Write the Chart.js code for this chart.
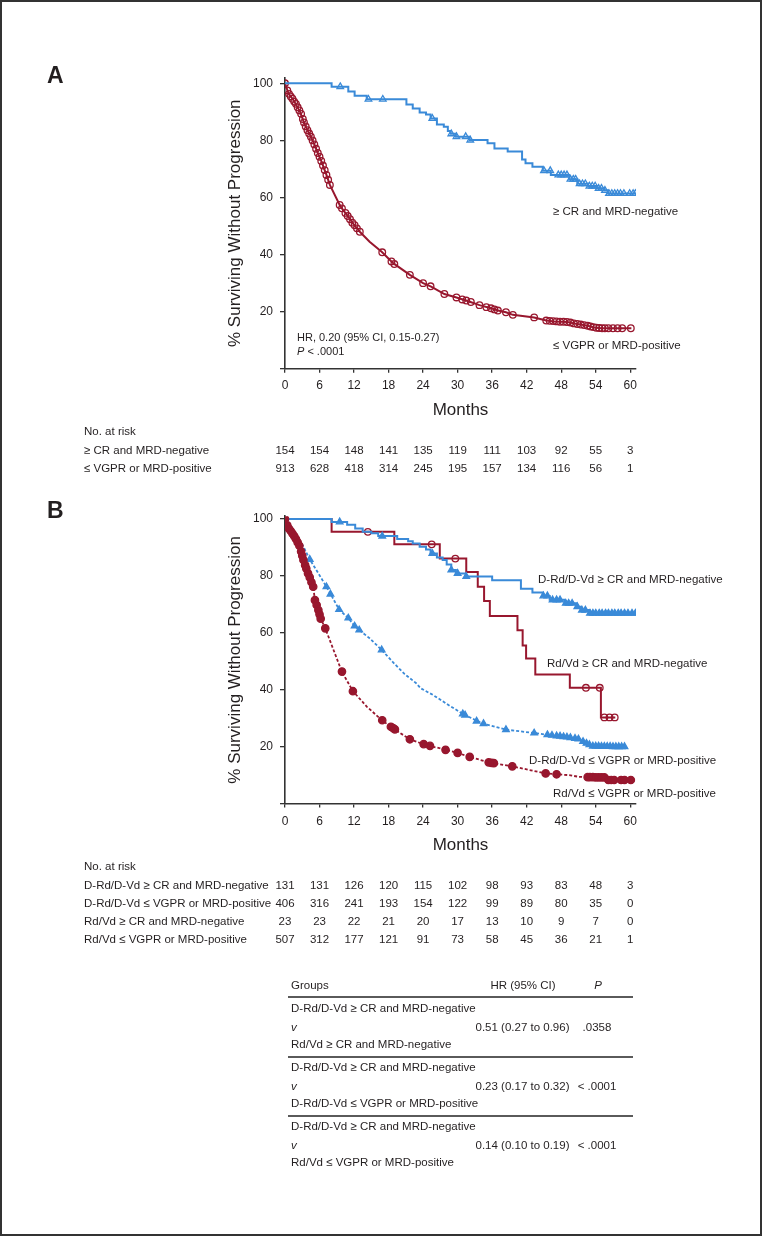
<!DOCTYPE html>
<html lang="en">
<head>
<meta charset="UTF-8">
<title>PFS by MRD status</title>
<script src="https://cdn.jsdelivr.net/npm/chart.js@4.4.0/dist/chart.umd.min.js"></script>
<style>
* { margin: 0; padding: 0; box-sizing: border-box; }
body { background: #fff; width: 762px; height: 1236px; overflow: hidden; font-family: "Liberation Sans", Arial, sans-serif; color: #231f20; }
.page { position: relative; width: 762px; height: 1236px; }
.frame { position: absolute; left: 0; top: 0; width: 762px; height: 1236px; border: 2px solid #333; pointer-events: none; }
canvas { position: absolute; left: 0; }
#chartA { top: 60px; }
#chartB { top: 495px; }
.t { position: absolute; font-size: 11.5px; line-height: 14px; white-space: nowrap; transform: translateY(-50%); }
.t.c { transform: translate(-50%, -50%); }
.rule { position: absolute; left: 288px; width: 345px; height: 2px; background: #5a5a5a; }
</style>
</head>
<body>
<div class="page" id="page">
    <canvas id="chartA" width="762" height="430"></canvas>
    <canvas id="chartB" width="762" height="460"></canvas>
    <div class="frame"></div>
</div>
<script>
// ---- data ----
const riskTimes = [0, 6, 12, 18, 24, 30, 36, 42, 48, 54, 60];

// Panel A
const blueA_time = [0, 8.1, 11.0, 12.1, 14.2, 21.1, 22.2, 23.4, 24.5, 25.3, 26.4, 27.6, 28.3, 28.8, 29.7, 32.1, 35.2, 36.4, 38.7, 41.2, 41.8, 43.0, 44.8, 46.2, 49.4, 50.8, 52.7, 54.3, 55.5, 56.1, 61.0];
const blueA_surv = [100, 98.8, 97.1, 95.6, 94.4, 92.6, 91.2, 89.8, 89.1, 87.7, 85.6, 84.8, 83.3, 82.3, 81.3, 80.1, 79.0, 77.2, 76.1, 73.3, 72.0, 70.8, 69.4, 67.9, 66.4, 64.8, 64.0, 63.2, 62.5, 61.4, 61.4];
const blueA_censT = [9.6, 14.5, 17.0, 25.6, 28.9, 29.8, 31.4, 32.2, 45.0, 46.1, 47.5, 48.0, 48.5, 49.0, 49.6, 50.1, 50.5, 51.2, 51.7, 52.2, 52.9, 53.4, 53.9, 54.5, 55.0, 55.6, 56.3, 56.8, 57.3, 57.8, 58.3, 58.9, 59.9, 60.5, 60.9];
const blueA_censS = [98.8, 94.4, 94.4, 87.7, 82.3, 81.3, 81.3, 80.1, 69.4, 69.4, 67.9, 67.9, 67.9, 67.9, 66.4, 66.4, 66.4, 64.8, 64.8, 64.8, 64.0, 64.0, 64.0, 63.2, 63.2, 62.5, 61.4, 61.4, 61.4, 61.4, 61.4, 61.4, 61.4, 61.4, 61.4];

const redA_time = [0, 0.6, 1.44, 2.6, 3.47, 4.33, 4.9, 5.5, 6.36, 7.2, 7.8, 9.5, 10.1, 11.0, 11.8, 13.0, 14.7, 16.8, 18.8, 21.7, 24.0, 25.4, 27.7, 29.8, 32.1, 33.8, 35.8, 37.0, 38.4, 39.6, 43.3, 45.4, 46.8, 49.1, 50.3, 52.6, 53.7, 54.9, 60.2];
const redA_surv = [100, 96.5, 94.2, 90.1, 85.4, 82.0, 79.6, 76.6, 72.5, 67.9, 64.4, 57.4, 55.6, 53.3, 50.9, 48.0, 44.5, 41.0, 37.0, 32.9, 30.0, 28.8, 26.2, 25.0, 23.5, 22.3, 21.2, 20.4, 19.8, 18.9, 18.0, 16.9, 16.6, 16.4, 15.9, 15.1, 14.5, 14.2, 14.2];
const redA_censT = [0, 0.4, 0.7, 1.0, 1.3, 1.6, 1.9, 2.2, 2.5, 2.8, 3.1, 3.3, 3.6, 3.9, 4.2, 4.5, 4.8, 5.1, 5.4, 5.7, 6.0, 6.3, 6.6, 6.9, 7.2, 7.5, 7.8, 9.5, 9.9, 10.5, 10.9, 11.3, 11.7, 12.1, 12.5, 13.0, 16.9, 18.5, 19.0, 21.7, 24.0, 25.3, 27.7, 29.8, 30.8, 31.5, 32.3, 33.8, 35.0, 35.8, 36.4, 37.0, 38.4, 39.6, 43.3, 45.4, 46.0, 46.6, 47.2, 47.8, 48.4, 49.0, 49.6, 50.2, 50.8, 51.4, 52.0, 52.6, 53.1, 53.6, 54.1, 54.6, 55.1, 55.6, 56.2, 57.0, 57.8, 58.6, 60.1];
const redA_censS = [100, 97.5, 96.3, 95.4, 94.6, 93.6, 92.8, 91.6, 90.5, 89.3, 87.5, 86.3, 84.9, 83.6, 82.4, 81.3, 80.0, 78.6, 77.1, 75.6, 74.3, 72.8, 71.2, 69.6, 67.9, 66.2, 64.4, 57.4, 56.2, 54.6, 53.5, 52.4, 51.2, 50.3, 49.2, 48.0, 40.8, 37.6, 36.7, 32.9, 30.0, 28.9, 26.2, 25.0, 24.3, 23.9, 23.4, 22.3, 21.6, 21.2, 20.8, 20.4, 19.8, 18.9, 18.0, 16.9, 16.8, 16.7, 16.6, 16.5, 16.5, 16.4, 16.2, 15.9, 15.7, 15.5, 15.3, 15.1, 14.8, 14.6, 14.4, 14.3, 14.2, 14.2, 14.2, 14.2, 14.2, 14.2, 14.2];

const riskLabelsA = ['\u2265 CR and MRD-negative', '\u2264 VGPR or MRD-positive'];
const riskA_cr = [154, 154, 148, 141, 135, 119, 111, 103, 92, 55, 3];
const riskA_vgpr = [913, 628, 418, 314, 245, 195, 157, 134, 116, 56, 1];

// Panel B
const blueBcr_time = [0, 8.1, 10.8, 12.2, 13.5, 15.0, 16.2, 19.5, 21.4, 22.2, 23.4, 24.5, 25.3, 26.4, 27.4, 28.1, 28.9, 29.7, 31.4, 36.0, 41.0, 43.0, 44.8, 46.0, 48.6, 50.6, 51.4, 52.9, 61.2];
const blueBcr_surv = [100, 99.0, 98.0, 96.7, 95.5, 95.0, 94.0, 93.0, 92.2, 91.4, 90.3, 89.3, 87.9, 86.5, 85.6, 84.0, 82.1, 80.9, 79.8, 78.5, 75.5, 74.2, 73.0, 71.6, 70.4, 69.2, 68.0, 66.9, 66.9];
const blueBcr_censT = [9.5, 16.9, 25.6, 28.9, 30.0, 31.5, 44.9, 45.6, 46.5, 47.2, 47.8, 48.8, 49.3, 49.9, 50.8, 51.6, 52.2, 53.0, 53.5, 54.0, 54.6, 55.1, 55.7, 56.2, 56.8, 57.3, 57.9, 58.4, 59.0, 59.6, 60.3, 60.9];
const blueBcr_censS = [99.0, 94.0, 87.9, 82.1, 80.9, 79.8, 73.0, 73.0, 71.6, 71.6, 71.6, 70.4, 70.4, 70.4, 69.2, 68.0, 68.0, 66.9, 66.9, 66.9, 66.9, 66.9, 66.9, 66.9, 66.9, 66.9, 66.9, 66.9, 66.9, 66.9, 66.9, 66.9];

const redBcr_time = [0, 8.1, 19.0, 26.9, 31.5, 33.5, 34.6, 35.6, 40.4, 41.3, 41.9, 43.5, 49.5, 54.9, 57.4];
const redBcr_surv = [100, 95.5, 91.1, 86.1, 81.4, 76.2, 71.2, 65.9, 60.9, 55.6, 51.0, 45.4, 40.7, 30.3, 30.3];
const redBcr_censT = [14.4, 25.5, 29.6, 52.3, 54.7, 55.5, 56.4, 57.3];
const redBcr_censS = [95.5, 91.1, 86.1, 40.7, 40.7, 30.3, 30.3, 30.3];

const blueBv_time = [0, 0.9, 2.0, 3.2, 4.3, 5.8, 7.2, 8.0, 9.4, 11.0, 12.1, 12.9, 14.7, 16.8, 18.8, 20.8, 22.8, 23.6, 25.7, 28.6, 30.3, 31.2, 34.3, 38.4, 43.3, 46.0, 48.9, 50.8, 52.2, 53.5, 59.0];
const blueBv_surv = [100, 97.9, 94.4, 90.3, 85.8, 80.9, 76.2, 73.4, 68.2, 65.2, 62.4, 61.0, 58.1, 54.0, 49.6, 45.5, 42.3, 40.5, 38.2, 34.4, 32.3, 31.2, 28.2, 26.0, 24.8, 24.1, 23.4, 22.8, 21.4, 20.2, 20.0];
const blueBv_censT = [4.3, 7.2, 7.9, 9.4, 11.0, 12.1, 12.9, 16.8, 30.9, 31.3, 33.3, 34.5, 38.4, 43.3, 45.6, 46.4, 47.2, 47.8, 48.4, 49.0, 49.6, 50.4, 51.0, 51.8, 52.4, 52.9, 53.5, 54.0, 54.5, 55.0, 55.5, 56.0, 56.5, 57.0, 57.5, 58.0, 58.5, 59.0];
const blueBv_censS = [85.8, 76.2, 73.6, 68.2, 65.2, 62.4, 61.0, 54.0, 31.5, 31.1, 29.0, 28.1, 26.0, 24.8, 24.2, 24.0, 23.8, 23.7, 23.5, 23.4, 23.2, 22.9, 22.7, 21.8, 21.2, 20.7, 20.2, 20.2, 20.2, 20.1, 20.1, 20.1, 20.1, 20.0, 20.0, 20.0, 20.0, 20.0];

const redBv_time = [0, 0.9, 1.7, 2.6, 3.2, 4.0, 4.9, 5.2, 5.8, 6.2, 7.0, 9.85, 11.8, 14.2, 16.85, 18.7, 21.7, 24.05, 25.3, 27.8, 30.0, 32.1, 35.8, 39.5, 45.3, 49.4, 51.1, 55.7, 56.0, 60.1];
const redBv_surv = [100, 96.1, 93.8, 90.3, 85.6, 80.9, 76.2, 71.5, 68.0, 65.0, 61.6, 46.5, 39.5, 34.1, 29.3, 26.5, 22.6, 20.9, 20.2, 19.0, 17.8, 16.4, 14.3, 13.1, 10.6, 10.0, 9.4, 9.2, 8.3, 8.3];
const redBv_censT = [0, 0.4, 0.7, 1.0, 1.3, 1.6, 1.9, 2.2, 2.5, 2.8, 3.0, 3.2, 3.5, 3.7, 4.0, 4.3, 4.6, 4.9, 5.2, 5.5, 5.8, 6.0, 6.2, 7.0, 9.9, 11.8, 16.9, 18.4, 18.8, 19.1, 21.7, 24.1, 25.2, 27.9, 30.0, 32.1, 35.4, 35.9, 36.3, 39.5, 45.3, 47.2, 52.6, 53.0, 53.5, 54.0, 54.5, 55.0, 55.5, 56.2, 56.7, 57.2, 58.4, 59.0, 60.1];
const redBv_censS = [100, 97.8, 96.6, 95.8, 94.9, 94.0, 93.0, 91.8, 90.6, 88.6, 87.1, 85.6, 83.8, 82.6, 80.9, 79.5, 77.8, 76.2, 71.5, 69.8, 68.0, 66.5, 65.0, 61.6, 46.4, 39.5, 29.3, 27.0, 26.5, 26.1, 22.6, 20.9, 20.3, 18.9, 17.8, 16.4, 14.5, 14.3, 14.2, 13.1, 10.6, 10.3, 9.3, 9.3, 9.3, 9.2, 9.2, 9.2, 9.2, 8.3, 8.3, 8.3, 8.3, 8.3, 8.3];

const riskLabelsB = ['D-Rd/D-Vd \u2265 CR and MRD-negative', 'D-Rd/D-Vd \u2264 VGPR or MRD-positive', 'Rd/Vd \u2265 CR and MRD-negative', 'Rd/Vd \u2264 VGPR or MRD-positive'];
const riskB_dcr = [131, 131, 126, 120, 115, 102, 98, 93, 83, 48, 3];
const riskB_dvgpr = [406, 316, 241, 193, 154, 122, 99, 89, 80, 35, 0];
const riskB_cr = [23, 23, 22, 21, 20, 17, 13, 10, 9, 7, 0];
const riskB_vgpr = [507, 312, 177, 121, 91, 73, 58, 45, 36, 21, 1];

// HR table
const hrFrom = ['D-Rd/D-Vd \u2265 CR and MRD-negative', 'D-Rd/D-Vd \u2265 CR and MRD-negative', 'D-Rd/D-Vd \u2265 CR and MRD-negative'];
const hrTo = ['Rd/Vd \u2265 CR and MRD-negative', 'D-Rd/D-Vd \u2264 VGPR or MRD-positive', 'Rd/Vd \u2264 VGPR or MRD-positive'];
const hrValue = ['0.51 (0.27 to 0.96)', '0.23 (0.17 to 0.32)', '0.14 (0.10 to 0.19)'];
const hrP = ['.0358', '< .0001', '< .0001'];

// ---- drawing ----
const BLUE = '#3a8ad8';
const RED = '#98172e';
const INK = '#231f20';
const FONT = '"Liberation Sans", Arial, sans-serif';

function pts(ts, ss) {
    return ts.map(function(t, i) { return {x: t, y: ss[i]}; });
}

function curve(ts, ss, color, stepped, dash) {
    return {
        data: pts(ts, ss),
        borderColor: color,
        borderWidth: dash ? 1.8 : 2,
        borderDash: dash || [],
        stepped: stepped,
        pointRadius: 0,
        fill: false,
        tension: 0
    };
}

function marks(ts, ss, color, style, filled, r) {
    return {
        data: pts(ts, ss),
        showLine: false,
        pointStyle: style,
        pointRadius: r,
        pointBorderWidth: 1.3,
        pointBorderColor: color,
        pointBackgroundColor: filled ? color : 'rgba(0,0,0,0)'
    };
}

const annotations = {
    id: 'annotations',
    afterDraw(chart, args, opts) {
        const ctx = chart.ctx;
        const xs = chart.scales.x;
        ctx.save();
        ctx.fillStyle = INK;
        ctx.textBaseline = 'middle';
        ctx.textAlign = 'left';
        ctx.font = 'bold 23px ' + FONT;
        ctx.fillText(opts.letter, 47, 17);

        ctx.font = '11.5px ' + FONT;
        opts.labels.forEach(function(l) { ctx.fillText(l[0], l[1], l[2]); });

        if (opts.hr) {
            ctx.font = '11px ' + FONT;
            ctx.fillText('HR, 0.20 (95% CI, 0.15-0.27)', 297, 278);
            ctx.font = 'italic 11px ' + FONT;
            ctx.fillText('P', 297, 292);
            const w = ctx.measureText('P').width;
            ctx.font = '11px ' + FONT;
            ctx.fillText(' < .0001', 297 + w, 292);
        }

        // number at risk
        ctx.font = '11.5px ' + FONT;
        ctx.fillText('No. at risk', 84, 372);
        opts.riskRows.forEach(function(row, i) {
            const y = 390.5 + i * 18;
            ctx.textAlign = 'left';
            ctx.fillText(opts.riskLabels[i], 84, y);
            ctx.textAlign = 'center';
            row.forEach(function(n, j) {
                ctx.fillText(String(n), xs.getPixelForValue(riskTimes[j]), y);
            });
        });
        ctx.restore();
    }
};

function makeChart(id, datasets, yMax, pad, tickPad, annot) {
    return new Chart(document.getElementById(id), {
        type: 'line',
        data: { datasets: datasets },
        options: {
            responsive: false,
            animation: false,
            devicePixelRatio: 1,
            layout: { padding: pad },
            plugins: {
                legend: { display: false },
                tooltip: { enabled: false },
                annotations: annot
            },
            scales: {
                x: {
                    type: 'linear',
                    min: 0,
                    max: 61,
                    afterFit: function(s) { s.height = 52; },
                    border: { display: true, color: '#333', width: 1.6 },
                    grid: { drawOnChartArea: false, drawTicks: true, tickLength: 4, color: '#333', lineWidth: 1.3 },
                    ticks: { stepSize: 6, includeBounds: false, padding: tickPad, color: INK, font: { family: FONT, size: 12 } },
                    title: { display: true, text: 'Months', color: INK, padding: 0, font: { family: FONT, size: 17 } }
                },
                y: {
                    min: 0,
                    max: yMax,
                    afterFit: function(s) { s.width = 60; },
                    border: { display: true, color: '#333', width: 1.6 },
                    grid: { drawOnChartArea: false, drawTicks: true, tickLength: 5, color: '#333', lineWidth: 1.3 },
                    ticks: {
                        stepSize: 20, includeBounds: false, padding: 7, color: INK,
                        font: { family: FONT, size: 12 },
                        callback: function(v) { return v === 0 ? '' : v; }
                    },
                    title: { display: true, text: '% Surviving Without Progression', color: INK, padding: 0, font: { family: FONT, size: 17 } }
                }
            }
        },
        plugins: [annotations]
    });
}

makeChart('chartA', [
    curve(blueA_time, blueA_surv, BLUE, true),
    marks(blueA_censT, blueA_censS, BLUE, 'triangle', false, 3.8),
    curve(redA_time, redA_surv, RED, false),
    marks(redA_censT, redA_censS, RED, 'circle', false, 3.3)
], 102, { left: 225, right: 126, top: 17.6, bottom: 69.2 }, 6, {
    letter: 'A',
    hr: true,
    labels: [
        ['\u2265 CR and MRD-negative', 553, 151.7],
        ['\u2264 VGPR or MRD-positive', 553, 286]
    ],
    riskLabels: riskLabelsA,
    riskRows: [riskA_cr, riskA_vgpr]
});

makeChart('chartB', [
    curve(redBv_time, redBv_surv, RED, false, [3, 2]),
    marks(redBv_censT, redBv_censS, RED, 'circle', true, 3.7),
    curve(blueBv_time, blueBv_surv, BLUE, false, [3, 2]),
    marks(blueBv_censT, blueBv_censS, BLUE, 'triangle', true, 3.8),
    curve(blueBcr_time, blueBcr_surv, BLUE, true),
    marks(blueBcr_censT, blueBcr_censS, BLUE, 'triangle', true, 3.8),
    curve(redBcr_time, redBcr_surv, RED, true),
    marks(redBcr_censT, redBcr_censS, RED, 'circle', false, 3.3)
], 101, { left: 225, right: 126, top: 21.2, bottom: 99.4 }, 7, {
    letter: 'B',
    hr: false,
    labels: [
        ['D-Rd/D-Vd \u2265 CR and MRD-negative', 538, 85],
        ['Rd/Vd \u2265 CR and MRD-negative', 547, 169],
        ['D-Rd/D-Vd \u2264 VGPR or MRD-positive', 529, 265.7],
        ['Rd/Vd \u2264 VGPR or MRD-positive', 553, 299.3]
    ],
    riskLabels: riskLabelsB,
    riskRows: [riskB_dcr, riskB_dvgpr, riskB_cr, riskB_vgpr]
});

// HR table (plain text)
const page = document.getElementById('page');
function addText(html, x, y, centered) {
    const d = document.createElement('div');
    d.className = centered ? 't c' : 't';
    d.style.left = x + 'px';
    d.style.top = y + 'px';
    d.innerHTML = html;
    page.appendChild(d);
}
function addRule(y) {
    const d = document.createElement('div');
    d.className = 'rule';
    d.style.top = y + 'px';
    page.appendChild(d);
}
addText('Groups', 291, 985);
addText('HR (95% CI)', 523, 985, true);
addText('<i>P</i>', 598, 985, true);
addRule(996);
hrFrom.forEach(function(g, i) {
    const y0 = 1008 + i * 59;
    if (i > 0) addRule(y0 - 11);
    addText(g, 291, y0);
    addText('<i>v</i>', 291, y0 + 18.5);
    addText(hrTo[i], 291, y0 + 36);
    addText(hrValue[i], 522.5, y0 + 18.5, true);
    addText(hrP[i], 597, y0 + 18.5, true);
});
</script>
</body>
</html>
